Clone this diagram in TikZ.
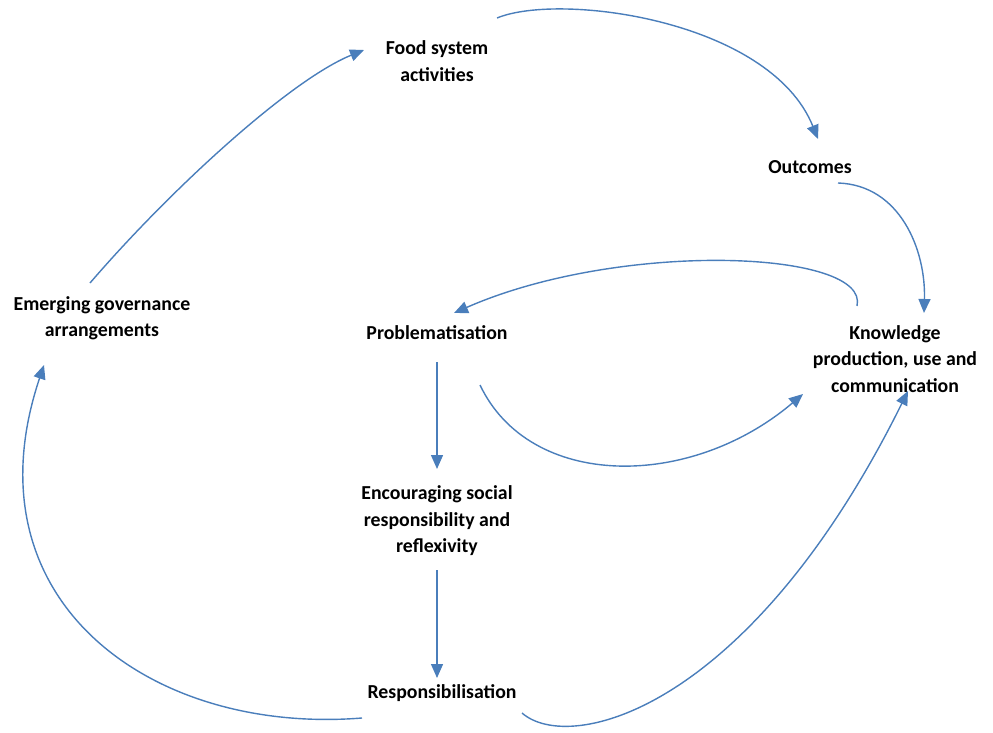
\documentclass[tikz,border=0pt]{standalone}
\usepackage{fontspec}
\setmainfont{Carlito}
\usetikzlibrary{arrows.meta}
\definecolor{linkblue}{HTML}{4A7EBB}
\tikzset{
  lbl/.style={align=center, font=\fontsize{19.8}{26.5}\selectfont\bfseries, inner sep=0pt},
  link/.style={draw=linkblue, line width=1.4pt, -{Triangle[length=14pt,width=12pt]}}
}
\begin{document}
\begin{tikzpicture}[x=1pt,y=-1pt]
\useasboundingbox (0,0) rectangle (993,733);
\node[lbl] (food) at (437,61) {Food system\\activities};
\node[lbl] (out) at (810,167) {Outcomes};
\node[lbl] (know) at (895,359) {Knowledge\\production, use and\\communication};
\node[lbl] (prob) at (437,333) {Problematisation};
\node[lbl] (enc) at (437,521) {Encouraging social\\responsibility and\\reflexivity};
\node[lbl] (resp) at (442,693) {Responsibilisation};
\node[lbl] (emer) at (102,318) {Emerging governance\\arrangements};
% connector ends
\coordinate (a1) at (90,283);   \coordinate (a2) at (364,50);
\coordinate (b1) at (497,18);   \coordinate (b2) at (818,139);
\coordinate (c1) at (838,183);  \coordinate (c2) at (924,313);
\coordinate (d1) at (857,306);  \coordinate (d2) at (454,313);
\coordinate (e1) at (480,385);  \coordinate (e2) at (803,394);
\coordinate (f1) at (437,362);  \coordinate (f2) at (437,469);
\coordinate (g1) at (437,570);  \coordinate (g2) at (437,678);
\coordinate (h1) at (362,718);  \coordinate (h2) at (44,365);
\coordinate (i1) at (522,713);  \coordinate (i2) at (908,391);
\draw[link] (a1) .. controls (170,190) and (290,80) .. (a2);
\draw[link] (b1) .. controls (560,-8) and (770,20) .. (b2);
\draw[link] (c1) .. controls (900,185) and (926,250) .. (c2);
\draw[link] (d1) .. controls (870,250) and (620,240) .. (d2);
\draw[link] (e1) .. controls (530,490) and (690,490) .. (e2);
\draw[link] (f1) -- (f2);
\draw[link] (g1) -- (g2);
\draw[link] (h1) .. controls (150,735) and (-35,600) .. (h2);
\draw[link] (i1) .. controls (570,755) and (750,710) .. (i2);
\end{tikzpicture}
\end{document}
